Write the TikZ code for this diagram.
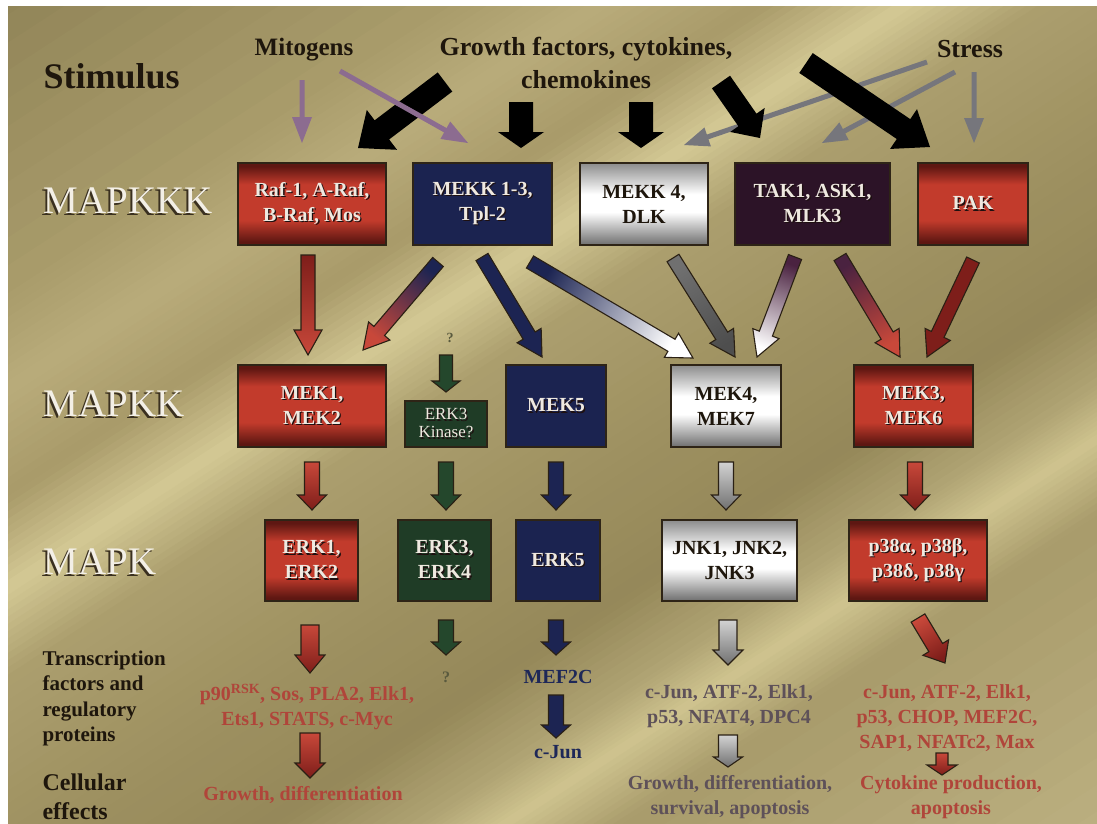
\documentclass[tikz,border=0pt]{standalone}
\usepackage{fontspec}
\setmainfont{Liberation Serif}
\usetikzlibrary{calc}

\newcommand\fs[2]{\fontsize{#1}{#2}\selectfont}

% background tones
\definecolor{bgA}{HTML}{8E8256}
\definecolor{bgB}{HTML}{A99C6B}
\definecolor{bgC}{HTML}{B9AC7B}
\definecolor{bgD}{HTML}{A89A69}
\definecolor{bgE}{HTML}{D4C995}
\definecolor{bgF}{HTML}{AC9F6E}
\definecolor{bgG}{HTML}{9F9262}
\definecolor{bgH}{HTML}{958859}
\definecolor{bgI}{HTML}{B0A474}
\definecolor{bgJ}{HTML}{CFC48F}
\definecolor{bgK}{HTML}{A89B6B}
\definecolor{bgL}{HTML}{BCB081}

% boxes
\definecolor{redD}{HTML}{5E1712}
\definecolor{redM}{HTML}{C23B2C}
\definecolor{silD}{HTML}{6E6E6E}
\definecolor{silT}{HTML}{8C8C8C}
\definecolor{navy}{HTML}{1B2350}
\definecolor{plum}{HTML}{2C1327}
\definecolor{forest}{HTML}{1F3C26}
\definecolor{boxline}{HTML}{2E2416}

% arrows
\definecolor{mitoP}{HTML}{8C6C90}
\definecolor{stressG}{HTML}{76767C}
\definecolor{arrline}{HTML}{2A2014}
\definecolor{arrRedD}{HTML}{7E1E1A}
\definecolor{arrRed}{HTML}{C8483A}
\definecolor{arrNavy}{HTML}{1C2452}
\definecolor{arrPlum}{HTML}{4A2240}
\definecolor{arrGreen}{HTML}{24472C}
\definecolor{arrGray}{HTML}{707070}

% text
\definecolor{ink}{HTML}{1E160C}
\definecolor{boxtxt}{HTML}{EFE9E0}
\definecolor{embdark}{HTML}{1E1010}
\definecolor{labtxt}{HTML}{F3EFE6}
\definecolor{labdark}{HTML}{3A3020}
\definecolor{redtxt}{HTML}{B0453A}
\definecolor{mauvetxt}{HTML}{5E5159}
\definecolor{navytxt}{HTML}{1E2858}
\definecolor{qtxt}{HTML}{5A5A3E}

\pgfdeclareverticalshading{redshade}{100bp}{color(0bp)=(redD); color(27bp)=(redD); color(40bp)=(redM); color(62bp)=(redM); color(73bp)=(redD); color(100bp)=(redD)}
\pgfdeclareverticalshading{silvershade}{100bp}{color(0bp)=(silD); color(25bp)=(silD); color(45bp)=(white); color(56bp)=(white); color(75bp)=(silT); color(100bp)=(silT)}

% raised lettering
\newcommand\emb[1]{\rlap{\hspace{1.3pt}\raisebox{-1.3pt}{\color{embdark}#1}}#1}
\newcommand\lab[1]{\rlap{\hspace{-2pt}\raisebox{-2pt}{\color{labdark}#1}}#1}

% block arrow: style, tail, tip, shaft half width, head half width, head length
\newcommand\blockarrow[6]{%
  \path (#2); \pgfgetlastxy{\baTx}{\baTy}%
  \path (#3); \pgfgetlastxy{\baHx}{\baHy}%
  \pgfmathsetmacro\baAng{atan2(\baHy-\baTy,\baHx-\baTx)+90}%
  \coordinate (neck) at ($(#3)!#6!(#2)$);%
  \path[#1]
    ($(#2)!#4!90:(#3)$) -- ($(neck)!#4!90:(#3)$) -- ($(neck)!#5!90:(#3)$) -- (#3)
    -- ($(neck)!#5!-90:(#3)$) -- ($(neck)!#4!-90:(#3)$) -- ($(#2)!#4!-90:(#3)$) -- cycle;%
}

\tikzset{
  kbox/.style={draw=boxline, line width=1.3pt, inner sep=0pt, align=center, text=boxtxt, font=\fs{20}{25}\bfseries},
  redfill/.style={kbox, shade, shading=redshade},
  silverfill/.style={kbox, shade, shading=silvershade, text=ink},
  navyfill/.style={kbox, fill=navy},
  plumfill/.style={kbox, fill=plum},
  greenfill/.style={kbox, fill=forest},
  level/.style={anchor=west, text=labtxt, font=\fs{39}{44}},
  head/.style={text=ink, font=\fs{26}{33}\bfseries, align=center},
  outtxt/.style={font=\fs{20}{25}\bfseries, align=center},
  thinP/.style={fill=mitoP},
  thinG/.style={fill=stressG},
  heavy/.style={fill=black},
  follow/.style={shading angle=\baAng},
  arr/.style={draw=arrline, line width=1.1pt, line join=miter},
  aRed/.style={arr, top color=arrRedD, bottom color=arrRed, follow},
  aRedLow/.style={arr, top color=arrRed, bottom color=arrRedD, follow},
  aNavyRed/.style={arr, top color=arrNavy, bottom color=arrRed, follow},
  aNavy/.style={arr, fill=arrNavy},
  aNavyWhite/.style={arr, top color=arrNavy, bottom color=white, follow},
  aSilver/.style={arr, top color=arrGray, middle color=white, bottom color=arrGray!70!black, follow},
  aPlumWhite/.style={arr, top color=arrPlum, bottom color=white, follow},
  aPlumRed/.style={arr, top color=arrPlum, bottom color=arrRed, follow},
  aPak/.style={arr, top color=arrRedD, middle color=arrRed, bottom color=arrRedD, follow},
  aGreen/.style={arr, fill=arrGreen},
  aWhite/.style={arr, top color=gray!35, middle color=white, bottom color=arrGray, follow},
}

\begin{document}
\begin{tikzpicture}[x=1pt, y=-1pt]
\useasboundingbox (0,0) rectangle (1097,823);
\fill[white] (0,0) rectangle (1097,823);

% brushed gold backdrop, built from thin diagonal stripes
\begin{scope}
  \clip (8,6) rectangle (1097,823);
  \foreach \sa/\sb/\ca/\cb in {-30/250/bgA/bgB, 250/330/bgB/bgC, 330/420/bgC/bgD, 420/497/bgD/bgE, 497/570/bgE/bgF, 570/700/bgF/bgG, 700/840/bgG/bgH, 840/920/bgH/bgI, 920/965/bgI/bgJ, 965/1030/bgJ/bgK, 1030/1300/bgK/bgL}{
    \foreach \k in {0,...,11}{
      \pgfmathsetmacro\sOne{\sa+(\sb-\sa)*\k/12}
      \pgfmathsetmacro\sTwo{\sa+(\sb-\sa)*(\k+1)/12+1.5}
      \pgfmathtruncatemacro\pc{100*(\k+0.5)/12}
      \colorlet{stripe}{\cb!\pc!\ca}
      \fill[stripe] ({\sOne*0.545-1259},{\sOne*0.839+818}) -- ({\sOne*0.545+1259},{\sOne*0.839-818}) -- ({\sTwo*0.545+1259},{\sTwo*0.839-818}) -- ({\sTwo*0.545-1259},{\sTwo*0.839+818}) -- cycle;
    }
  }
\end{scope}

% ---- stimuli ----
\node[anchor=west, text=ink, font=\fs{36}{40}\bfseries] (stimulus) at (40,76) {Stimulus};
\node[head, font=\fs{25}{30}\bfseries] (mitogens) at (304,50) {Mitogens};
\node[head] (growth) at (586,63) {Growth factors, cytokines,\\chemokines};
\node[head] (stress) at (970,49) {Stress};

\coordinate (g1t) at (927,62);  \coordinate (g1h) at (684,145);
\coordinate (g2t) at (955,72);  \coordinate (g2h) at (822,143);
\coordinate (g3t) at (974,72);  \coordinate (g3h) at (974,143);
\blockarrow{thinG}{g1t}{g1h}{2.5pt}{10pt}{25pt}
\blockarrow{thinG}{g2t}{g2h}{2.5pt}{10pt}{25pt}
\blockarrow{thinG}{g3t}{g3h}{2.5pt}{10pt}{25pt}

\coordinate (b1t) at (445,82);  \coordinate (b1h) at (358,148);
\coordinate (b2t) at (521,102); \coordinate (b2h) at (521,148);
\coordinate (b3t) at (641,102); \coordinate (b3h) at (641,148);
\coordinate (b4t) at (721,82);  \coordinate (b4h) at (760,138);
\coordinate (b5t) at (806,63);  \coordinate (b5h) at (930,147);
\blockarrow{heavy}{b1t}{b1h}{12pt}{25pt}{30pt}
\blockarrow{heavy}{b2t}{b2h}{12pt}{23pt}{16pt}
\blockarrow{heavy}{b3t}{b3h}{12pt}{23pt}{16pt}
\blockarrow{heavy}{b4t}{b4h}{11pt}{21pt}{22pt}
\blockarrow{heavy}{b5t}{b5h}{12pt}{24pt}{32pt}

\coordinate (p1t) at (302,80);  \coordinate (p1h) at (302,143);
\coordinate (p2t) at (340,71);  \coordinate (p2h) at (468,143);
\blockarrow{thinP}{p1t}{p1h}{2.5pt}{10pt}{26pt}
\blockarrow{thinP}{p2t}{p2h}{2.5pt}{10pt}{26pt}

% ---- level labels ----
\node[level] (lkkk) at (40,202) {\lab{MAPKKK}};
\node[level] (lkk) at (40,405) {\lab{MAPKK}};
\node[level] (lk) at (40,563) {\lab{MAPK}};

% ---- MAPKKK ----
\node[redfill, minimum width=148pt, minimum height=82pt] (raf) at (312,204) {\emb{Raf-1, A-Raf,}\\\emb{B-Raf, Mos}};
\node[navyfill, minimum width=139pt, minimum height=82pt] (mekk13) at (482.5,204) {\emb{MEKK 1-3,}\\\emb{Tpl-2}};
\node[silverfill, minimum width=128pt, minimum height=82pt] (mekk4) at (644,204) {MEKK 4,\\DLK};
\node[plumfill, minimum width=155pt, minimum height=82pt] (tak1) at (812.5,204) {\emb{TAK1, ASK1,}\\\emb{MLK3}};
\node[redfill, minimum width=110pt, minimum height=82pt] (pak) at (973,204) {\emb{PAK}};

% ---- MAPKK ----
\node[redfill, minimum width=148pt, minimum height=82pt] (mek12) at (312,406) {\emb{MEK1,}\\\emb{MEK2}};
\node[greenfill, minimum width=82pt, minimum height=46pt, font=\fs{17}{18}] (erk3k) at (446,424) {\emb{ERK3}\\\emb{Kinase?}};
\node[navyfill, minimum width=100pt, minimum height=82pt] (mek5) at (556,406) {\emb{MEK5}};
\node[silverfill, minimum width=110pt, minimum height=82pt] (mek47) at (726,406) {MEK4,\\MEK7};
\node[redfill, minimum width=119pt, minimum height=82pt] (mek36) at (913.5,406) {\emb{MEK3,}\\\emb{MEK6}};

% ---- MAPK ----
\node[redfill, minimum width=93pt, minimum height=81pt] (erk12) at (311.5,560.5) {\emb{ERK1,}\\\emb{ERK2}};
\node[greenfill, minimum width=93pt, minimum height=81pt] (erk34) at (444.5,560.5) {\emb{ERK3,}\\\emb{ERK4}};
\node[navyfill, minimum width=84pt, minimum height=81pt] (erk5) at (558,560.5) {\emb{ERK5}};
\node[silverfill, minimum width=135pt, minimum height=81pt] (jnk) at (729.5,560.5) {JNK1, JNK2,\\JNK3};
\node[redfill, minimum width=138pt, minimum height=81pt] (p38) at (918,560.5) {\emb{p38α, p38β,}\\\emb{p38δ, p38γ}};

% ---- MAPKKK to MAPKK ----
\coordinate (m1t) at (308,255); \coordinate (m1h) at (308,355);
\coordinate (m2t) at (438,262); \coordinate (m2h) at (363,350);
\coordinate (m3t) at (482,257); \coordinate (m3h) at (542,357);
\coordinate (m4t) at (530,262); \coordinate (m4h) at (693,358);
\coordinate (m5t) at (673,258); \coordinate (m5h) at (735,357);
\coordinate (m6t) at (795,257); \coordinate (m6h) at (757,357);
\coordinate (m7t) at (840,257); \coordinate (m7h) at (900,357);
\coordinate (m8t) at (973,260); \coordinate (m8h) at (927,357);
\blockarrow{aRed}{m1t}{m1h}{7pt}{14pt}{25pt}
\blockarrow{aNavyRed}{m2t}{m2h}{7pt}{14pt}{25pt}
\blockarrow{aNavy}{m3t}{m3h}{7pt}{14pt}{25pt}
\blockarrow{aNavyWhite}{m4t}{m4h}{7pt}{14pt}{25pt}
\blockarrow{aSilver}{m5t}{m5h}{7pt}{14pt}{25pt}
\blockarrow{aPlumWhite}{m6t}{m6h}{7pt}{14pt}{25pt}
\blockarrow{aPlumRed}{m7t}{m7h}{7pt}{14pt}{25pt}
\blockarrow{aPak}{m8t}{m8h}{7pt}{14pt}{25pt}

\node[text=qtxt, font=\fs{14}{16}\bfseries] (qk) at (450,338) {?};
\coordinate (q1t) at (446,355); \coordinate (q1h) at (446,392);
\blockarrow{aGreen}{q1t}{q1h}{6.5pt}{14pt}{11pt}

% ---- MAPKK to MAPK ----
\coordinate (r1t) at (312,462); \coordinate (r1h) at (312,510);
\coordinate (r2t) at (446,462); \coordinate (r2h) at (446,510);
\coordinate (r3t) at (556,462); \coordinate (r3h) at (556,510);
\coordinate (r4t) at (726,462); \coordinate (r4h) at (726,510);
\coordinate (r5t) at (915,462); \coordinate (r5h) at (915,510);
\blockarrow{aRedLow}{r1t}{r1h}{7.5pt}{14.5pt}{15pt}
\blockarrow{aGreen}{r2t}{r2h}{7.5pt}{14.5pt}{15pt}
\blockarrow{aNavy}{r3t}{r3h}{7.5pt}{14.5pt}{15pt}
\blockarrow{aWhite}{r4t}{r4h}{7.5pt}{14.5pt}{15pt}
\blockarrow{aRedLow}{r5t}{r5h}{7.5pt}{14.5pt}{15pt}

% ---- downstream ----
\coordinate (l1t) at (310,625); \coordinate (l1h) at (310,673);
\coordinate (l2t) at (446,620); \coordinate (l2h) at (446,655);
\coordinate (l3t) at (556,620); \coordinate (l3h) at (556,655);
\coordinate (l4t) at (728,620); \coordinate (l4h) at (728,665);
\coordinate (l5t) at (918,618); \coordinate (l5h) at (945,663);
\coordinate (l6t) at (310,733); \coordinate (l6h) at (310,778);
\coordinate (l7t) at (556,695); \coordinate (l7h) at (556,738);
\coordinate (l8t) at (728,735); \coordinate (l8h) at (728,767);
\coordinate (l9t) at (942,753); \coordinate (l9h) at (942,775);
\blockarrow{aRedLow}{l1t}{l1h}{9pt}{15pt}{18pt}
\blockarrow{aGreen}{l2t}{l2h}{7.5pt}{14.5pt}{13pt}
\blockarrow{aNavy}{l3t}{l3h}{7.5pt}{14.5pt}{13pt}
\blockarrow{aWhite}{l4t}{l4h}{9pt}{15pt}{15pt}
\blockarrow{aRedLow}{l5t}{l5h}{8pt}{15pt}{18pt}
\blockarrow{aRedLow}{l6t}{l6h}{10pt}{15pt}{15pt}
\blockarrow{aNavy}{l7t}{l7h}{7.5pt}{14.5pt}{13pt}
\blockarrow{aWhite}{l8t}{l8h}{9.5pt}{14.5pt}{10pt}
\blockarrow{aRedLow}{l9t}{l9h}{6pt}{15pt}{10pt}

\node[outtxt, text=redtxt] (tfa) at (307,707) {p90\textsuperscript{RSK}, Sos, PLA2, Elk1,\\Ets1, STATS, c-Myc};
\node[outtxt, text=redtxt] (cea) at (303,795) {Growth, differentiation};
\node[text=qtxt, font=\fs{16}{18}\bfseries] (tfb) at (446,677) {?};
\node[outtxt, text=navytxt] (tfc) at (558,677) {MEF2C};
\node[outtxt, text=navytxt] (tfc2) at (558,752) {c-Jun};
\node[outtxt, text=mauvetxt] (tfd) at (729,706) {c-Jun, ATF-2, Elk1,\\p53, NFAT4, DPC4};
\node[outtxt, text=mauvetxt] (ced) at (730,797) {Growth, differentiation,\\survival, apoptosis};
\node[outtxt, text=redtxt] (tfe) at (947,718) {c-Jun, ATF-2, Elk1,\\p53, CHOP, MEF2C,\\SAP1, NFATc2, Max};
\node[outtxt, text=redtxt] (cee) at (951,797) {Cytokine production,\\apoptosis};

\node[anchor=west, align=left, text=ink, font=\fs{21}{25.5}\bfseries] (tflabel) at (39,698.5) {Transcription\\factors and\\regulatory\\proteins};
\node[anchor=west, align=left, text=ink, font=\fs{24}{29}\bfseries] (celabel) at (39,797) {Cellular\\effects};
\end{tikzpicture}
\end{document}
